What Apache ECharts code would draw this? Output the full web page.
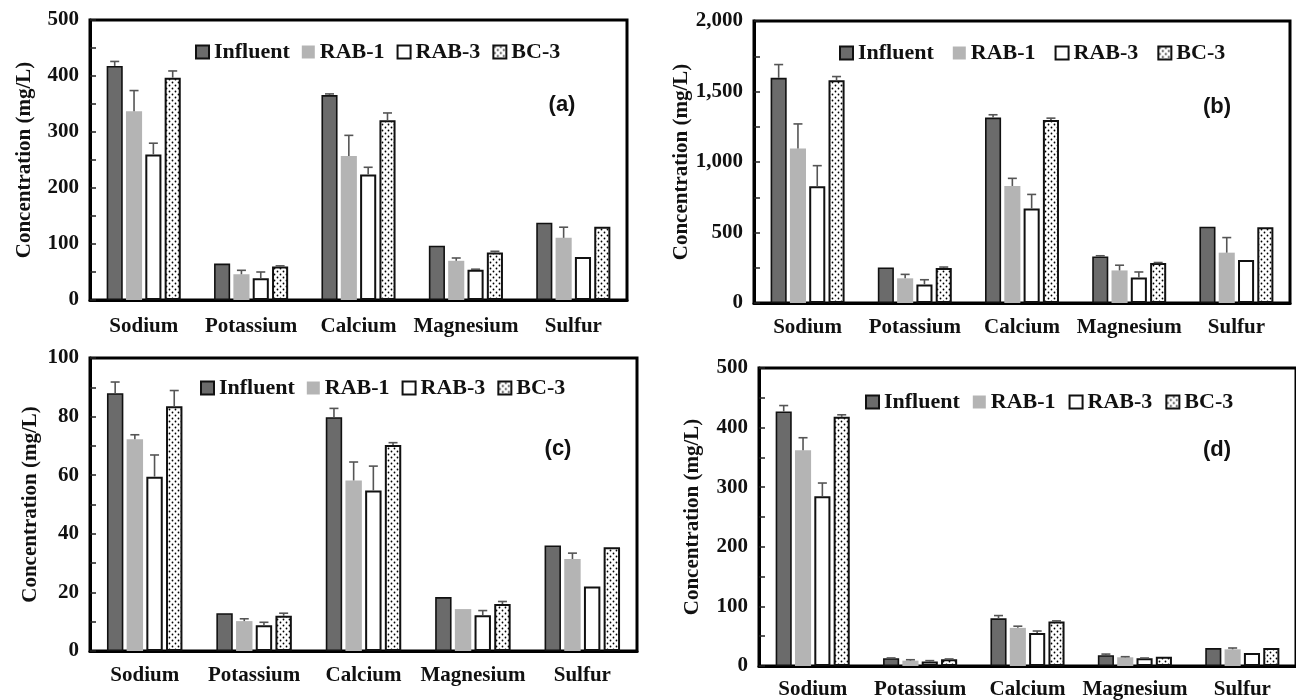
<!DOCTYPE html>
<html><head><meta charset="utf-8">
<script src="https://cdn.jsdelivr.net/npm/echarts@6/dist/echarts.min.js"></script>
<style>html,body{margin:0;padding:0;background:#fff}#c{width:1296px;height:700px}</style>
</head><body><div id="c"></div>
<script>
// ---------- data ----------
const categories = ['Sodium', 'Potassium', 'Calcium', 'Magnesium', 'Sulfur'];
const seriesNames = ['Influent', 'RAB-1', 'RAB-3', 'BC-3'];

// panel (a)
const influentA = [418, 65, 366, 97, 138];
const rab1A     = [337, 46, 257, 70, 111];
const rab3A     = [260, 39, 224, 54, 77];
const bc3A      = [397, 60, 321, 85, 131];
const influentAErr = [8, 0, 2, 0, 0];
const rab1AErr     = [37, 7, 37, 5, 19];
const rab3AErr     = [20, 11, 13, 1, 0];
const bc3AErr      = [12, 1, 13, 2, 0];
const yTicksA = [0, 100, 200, 300, 400, 500];

// panel (b)
const influentB = [1597, 252, 1315, 330, 541];
const rab1B     = [1096, 175, 830, 231, 357];
const rab3B     = [828, 132, 670, 180, 305];
const bc3B      = [1580, 249, 1297, 284, 538];
const influentBErr = [94, 0, 20, 5, 0];
const rab1BErr     = [174, 28, 54, 37, 107];
const rab3BErr     = [146, 33, 100, 40, 0];
const bc3BErr      = [26, 6, 14, 3, 0];
const yTicksB = [0, 500, 1000, 1500, 2000];

// panel (c)
const influentC = [88, 12.9, 79.8, 18.4, 36];
const rab1C     = [72.3, 10.2, 58.2, 14.3, 31.4];
const rab3C     = [59.5, 8.8, 54.8, 12.2, 22];
const bc3C      = [83.5, 12, 70.3, 16, 35.4];
const influentCErr = [3.8, 0, 3, 0, 0];
const rab1CErr     = [1.5, 0.8, 6.3, 0, 2];
const rab3CErr     = [7.4, 1, 8.3, 1.6, 0];
const bc3CErr      = [5.4, 0.9, 0.8, 0.9, 0];
const yTicksC = [0, 20, 40, 60, 80, 100];

// panel (d)
const influentD = [427, 13, 80, 18, 30];
const rab1D     = [362, 9, 64, 14.6, 28];
const rab3D     = [285, 7.5, 55.5, 12.9, 21.8];
const bc3D      = [418, 11.3, 74.5, 15.7, 30.3];
const influentDErr = [10, 0.5, 4.6, 2, 0];
const rab1DErr     = [21, 1.5, 2.8, 1, 2.2];
const rab3DErr     = [22, 1.5, 3.2, 0.5, 0];
const bc3DErr      = [3.5, 0.5, 1.2, 0, 0];
const yTicksD = [0, 100, 200, 300, 400, 500];

const panelTags = ['(a)', '(b)', '(c)', '(d)'];
const yAxisTitle = 'Concentration (mg/L)';

// ---------- styling / layout ----------
const SERIF = 'Liberation Serif';
const SANS = 'Liberation Sans';
const CAT_GAP = 0.31, BAR_GAP = 0.2;

const pc = document.createElement('canvas');
pc.width = 6; pc.height = 6;
const pctx = pc.getContext('2d');
pctx.fillStyle = '#fff'; pctx.fillRect(0, 0, 6, 6);
pctx.fillStyle = '#000';
pctx.beginPath(); pctx.arc(1.5, 1.5, 0.9, 0, Math.PI * 2); pctx.fill();
pctx.beginPath(); pctx.arc(4.5, 4.5, 0.9, 0, Math.PI * 2); pctx.fill();

const barStyles = [
  { color: '#6b6b6b', borderColor: '#111', borderWidth: 1.6 },
  { color: '#b4b4b4', borderWidth: 0 },
  { color: '#ffffff', borderColor: '#111', borderWidth: 2 },
  { color: { image: pc, repeat: 'repeat' }, borderColor: '#111', borderWidth: 2 }
];

const panels = [
  { grid: { left: 90, top: 20, right: 669, bottom: 400 }, ticks: yTicksA,
    vals: [influentA, rab1A, rab3A, bc3A], errs: [influentAErr, rab1AErr, rab3AErr, bc3AErr],
    legend: { left: 195, top: 41, gap: 12 }, tag: [562, 105], nameGap: 55, xMargin: 16, comma: false },
  { grid: { left: 754, top: 21, right: 6, bottom: 397 }, ticks: yTicksB,
    vals: [influentB, rab1B, rab3B, bc3B], errs: [influentBErr, rab1BErr, rab3BErr, bc3BErr],
    legend: { left: 839, top: 42, gap: 19 }, tag: [1217, 107], nameGap: 60, xMargin: 14, comma: true },
  { grid: { left: 90, top: 358, right: 659, bottom: 49 }, ticks: yTicksC,
    vals: [influentC, rab1C, rab3C, bc3C], errs: [influentCErr, rab1CErr, rab3CErr, bc3CErr],
    legend: { left: 200, top: 377, gap: 12 }, tag: [558, 449], nameGap: 49, xMargin: 14, comma: false },
  { grid: { left: 759, top: 368, right: -8, bottom: 34 }, ticks: yTicksD,
    vals: [influentD, rab1D, rab3D, bc3D], errs: [influentDErr, rab1DErr, rab3DErr, bc3DErr],
    legend: { left: 865, top: 391, gap: 13 }, tag: [1217, 450], nameGap: 56, xMargin: 13, comma: false }
];

const option = {
  backgroundColor: '#fff',
  animation: false,
  grid: [], xAxis: [], yAxis: [], legend: [], series: [], graphic: []
};

panels.forEach((p, pi) => {
  option.grid.push(Object.assign({ show: true, borderColor: '#000', borderWidth: 3, backgroundColor: 'transparent' }, p.grid));
  option.xAxis.push({
    type: 'category', gridIndex: pi, data: categories,
    axisLine: { show: true, lineStyle: { color: '#000', width: 3 } },
    axisTick: { show: false },
    axisLabel: { interval: 0, margin: p.xMargin, fontFamily: SERIF, fontWeight: 'bold', fontSize: 21, color: '#111' },
    splitLine: { show: false }
  });
  const tk = p.ticks;
  option.yAxis.push({
    type: 'value', gridIndex: pi, min: tk[0], max: tk[tk.length - 1], interval: tk[1] - tk[0],
    name: yAxisTitle, nameLocation: 'middle', nameGap: p.nameGap,
    nameTextStyle: { fontFamily: SERIF, fontWeight: 'bold', fontSize: 21, color: '#111' },
    axisLine: { show: true, lineStyle: { color: '#000', width: 3 } },
    axisTick: { show: true, inside: true, length: 6, lineStyle: { color: '#222', width: 1.5 } },
    minorTick: { show: true, splitNumber: 2, length: 6, lineStyle: { color: '#222', width: 1.5 } },
    splitLine: { show: false },
    axisLabel: {
      margin: 11, fontFamily: SERIF, fontWeight: 'bold', fontSize: 21, color: '#111',
      formatter: v => p.comma ? v.toLocaleString('en-US') : String(v)
    }
  });
  option.legend.push({
    data: seriesNames, left: p.legend.left, top: p.legend.top, itemGap: p.legend.gap,
    itemWidth: 13, itemHeight: 13, icon: 'rect', itemTextGap: 5, padding: 0,
    selectedMode: false,
    textStyle: { fontFamily: SERIF, fontWeight: 'bold', fontSize: 22, color: '#111' }
  });
  const errData = [];
  seriesNames.forEach((nm, si) => {
    option.series.push({
      type: 'bar', name: nm, xAxisIndex: pi, yAxisIndex: pi, data: p.vals[si],
      barCategoryGap: (CAT_GAP * 100) + '%', barGap: (BAR_GAP * 100) + '%',
      itemStyle: barStyles[si], emphasis: { disabled: true }
    });
    p.vals[si].forEach((v, ci) => errData.push([ci, si, v, v + p.errs[si][ci]]));
  });
  option.series.push({
    type: 'custom', name: 'err' + pi, xAxisIndex: pi, yAxisIndex: pi, z: 5,
    data: errData, encode: { x: 0, y: [2, 3] }, silent: true,
    renderItem: (params, api) => {
      const c = api.value(0), s = api.value(1), v = api.value(2), t = api.value(3);
      if (!(t > v)) return null;
      const band = api.size([1, 0])[0];
      const usable = band * (1 - CAT_GAP);
      const bw = usable / (4 + 3 * BAR_GAP);
      const base = api.coord([c, v]);
      const top = api.coord([c, t]);
      const cx = base[0] - usable / 2 + s * bw * (1 + BAR_GAP) + bw / 2;
      const st = { stroke: '#555', lineWidth: 1.6 };
      return { type: 'group', children: [
        { type: 'line', shape: { x1: cx, y1: base[1], x2: cx, y2: top[1] }, style: st },
        { type: 'line', shape: { x1: cx - 4.5, y1: top[1], x2: cx + 4.5, y2: top[1] }, style: st }
      ] };
    }
  });
  option.graphic.push({
    type: 'text', x: p.tag[0], y: p.tag[1], z: 10,
    style: { text: panelTags[pi], font: 'bold 22px "' + SANS + '"', fill: '#111', align: 'center', verticalAlign: 'middle' }
  });
});

const chart = echarts.init(document.getElementById('c'), null, { renderer: 'canvas' });
chart.setOption(option);
</script>
</body></html>
